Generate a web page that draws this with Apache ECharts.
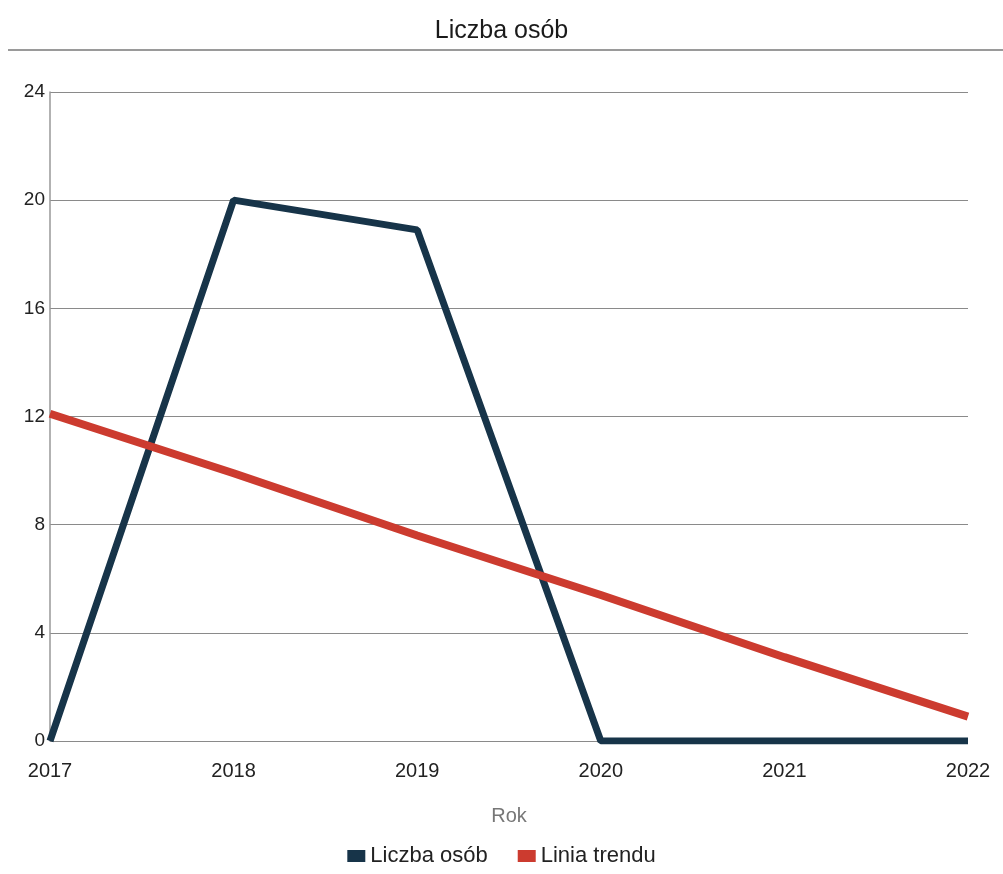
<!DOCTYPE html>
<html><head><meta charset="utf-8">
<script src="https://cdn.jsdelivr.net/npm/echarts@6/dist/echarts.min.js"></script>
<style>html,body{margin:0;padding:0;background:#fff}#c{width:1003px;height:874px}</style>
</head><body><div id="c"></div>
<script>
const years = ['2017','2018','2019','2020','2021','2022'];
const liczbaOsob = [0, 20, 18.9, 0, 0, 0];
const liniaTrendu = [12.1, 9.9, 7.6, 5.4, 3.1, 0.9];
const yTicks = [0, 4, 8, 12, 16, 20, 24];

const chart = echarts.init(document.getElementById('c'));
chart.setOption({
  animation: false,
  title: { text: 'Liczba osób', left: 'center', top: 14,
    textStyle: { fontFamily: 'Liberation Sans', fontSize: 25, fontWeight: 'normal', color: '#1a1a1a' } },
  graphic: [{ type: 'line', shape: { x1: 8, y1: 50, x2: 1003, y2: 50 }, style: { stroke: '#9a9a9a', lineWidth: 2 } }],
  legend: { bottom: 2, left: 'center', itemWidth: 18, itemHeight: 12, itemGap: 30,
    icon: 'rect',
    textStyle: { fontFamily: 'Liberation Sans', fontSize: 22, color: '#222' },
    data: ['Liczba osób', 'Linia trendu'] },
  grid: { left: 50, right: 35, top: 92, bottom: 133 },
  xAxis: { type: 'category', data: years, boundaryGap: false,
    name: 'Rok', nameLocation: 'middle', nameGap: 65,
    nameTextStyle: { fontFamily: 'Liberation Sans', fontSize: 20, color: '#777' },
    axisLine: { show: false }, axisTick: { show: false },
    axisLabel: { fontFamily: 'Liberation Sans', fontSize: 20, color: '#222', margin: 20 } },
  yAxis: { type: 'value', min: 0, max: 24, interval: 4,
    axisLine: { show: true, lineStyle: { color: '#999', width: 1.5 } }, axisTick: { show: false },
    axisLabel: { fontFamily: 'Liberation Sans', fontSize: 19, color: '#222', margin: 5,
      formatter: v => yTicks.includes(v) ? String(v) : '' },
    splitLine: { lineStyle: { color: '#8a8a8a', width: 1.2 } } },
  series: [
    { name: 'Liczba osób', type: 'line', data: liczbaOsob, symbol: 'none',
      lineStyle: { color: '#173449', width: 7 }, itemStyle: { color: '#173449' } },
    { name: 'Linia trendu', type: 'line', data: liniaTrendu, symbol: 'none',
      lineStyle: { color: '#cc3b2f', width: 8 }, itemStyle: { color: '#cc3b2f' } }
  ]
});
</script></body></html>
